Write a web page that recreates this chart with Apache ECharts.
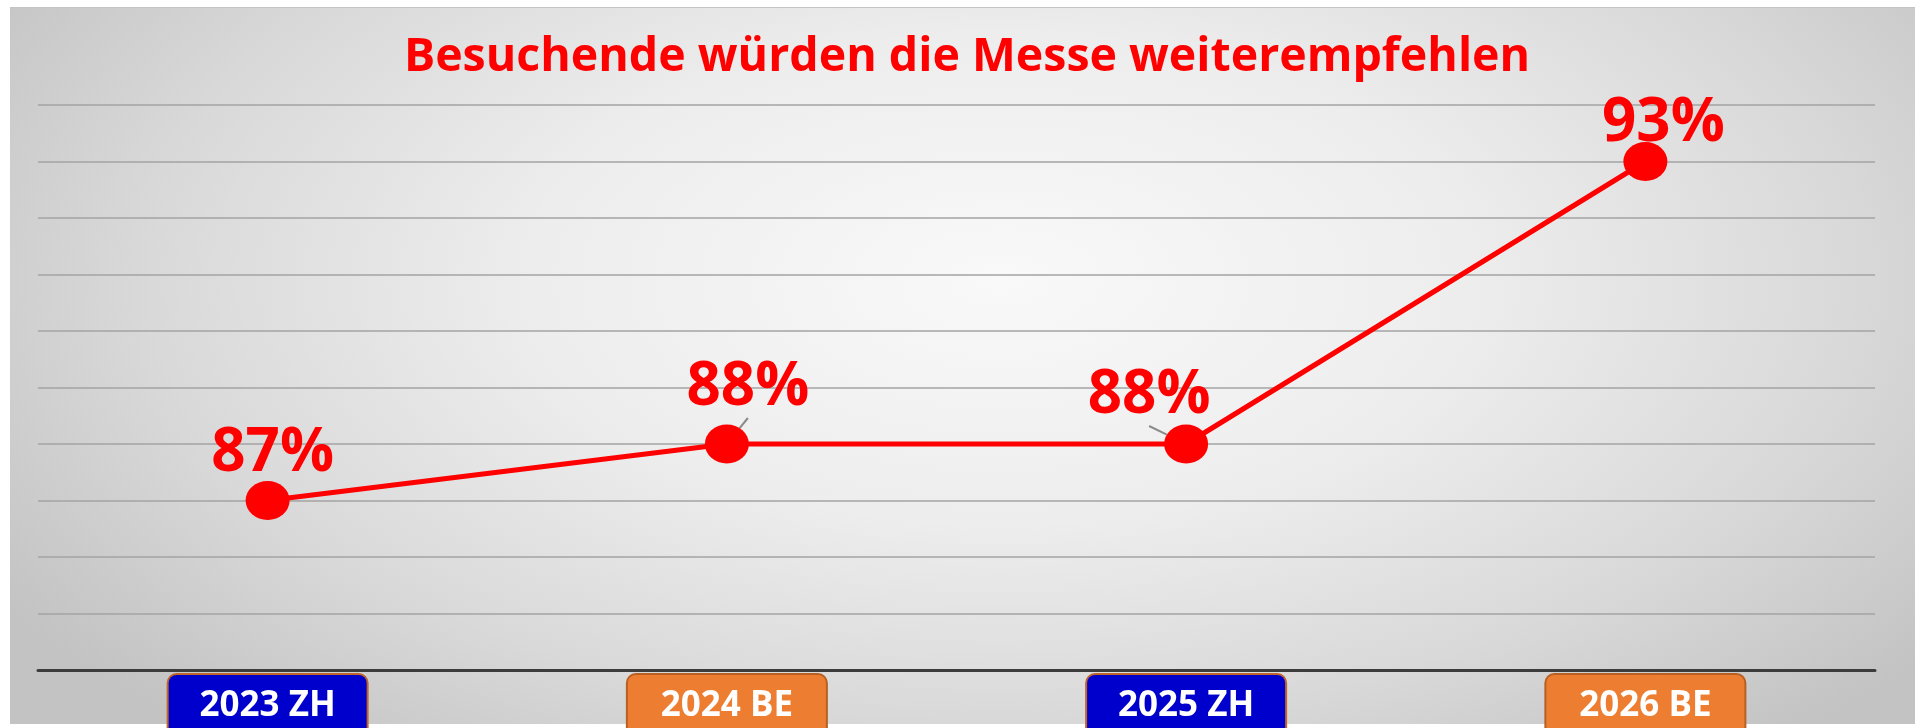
<!DOCTYPE html>
<html>
<head>
<meta charset="utf-8">
<script src="https://cdn.jsdelivr.net/npm/echarts@6/dist/echarts.min.js"></script>
<style>
  html, body { margin: 0; padding: 0; background: #ffffff; overflow: hidden; }
  #panel {
    position: absolute; left: 10px; top: 7px; width: 1905px; height: 716px;
    background: radial-gradient(ellipse 62% 85% at 52% 38%, #f9f9f9 0%, #ededed 40%, #d9d9d9 72%, #c3c3c3 100%);
    border-top: 1px solid #c4c4c4;
  }
  #chart { position: absolute; left: 0; top: 0; width: 1915px; height: 728px; }
</style>
</head>
<body>
<div id="panel"></div>
<div id="chart"></div>
<script>
const titleText = 'Besuchende würden die Messe weiterempfehlen';
const categories = ['2023 ZH', '2024 BE', '2025 ZH', '2026 BE'];
const values = [87, 88, 88, 93];
const yTicks = [84, 85, 86, 87, 88, 89, 90, 91, 92, 93, 94];

// label placement tweaks (pixels) relative to the point
const labelShift = [[5, -47], [21, -56], [-37, -48], [18, -38]];
const showLeader = [false, true, true, false];

const chart = echarts.init(document.getElementById('chart'));
chart.setOption({
  animation: false,
  backgroundColor: 'transparent',
  graphic: [{
    type: 'text',
    x: 967,
    y: 58,
    style: {
      text: titleText,
      align: 'center',
      verticalAlign: 'middle',
      fill: '#ff0000',
      fontSize: 46.5,
      fontWeight: 'bold',
      fontFamily: 'Open Sans'
    },
    z: 10
  }],
  grid: { left: 38, right: 40, top: 105, bottom: 58, outerBoundsMode: 'none', containLabel: false },
  xAxis: {
    type: 'category',
    data: categories,
    boundaryGap: true,
    axisTick: { show: false },
    axisLine: { lineStyle: { color: '#3c3c3c', width: 3 } },
    axisLabel: {
      margin: 5,
      interval: 0,
      formatter: function (v) {
        return (v.indexOf('ZH') >= 0 ? '{zh|' : '{be|') + v + '}';
      },
      rich: {
        zh: {
          backgroundColor: '#0000cc', borderColor: '#c0652a', borderWidth: 2, borderRadius: 8,
          width: 198, height: 62, lineHeight: 62, align: 'center', verticalAlign: 'middle',
          color: '#ffffff', fontSize: 35, fontWeight: 'bold', fontFamily: 'Open Sans'
        },
        be: {
          backgroundColor: '#ed7d31', borderColor: '#b85f22', borderWidth: 2, borderRadius: 8,
          width: 198, height: 62, lineHeight: 62, align: 'center', verticalAlign: 'middle',
          color: '#ffffff', fontSize: 35, fontWeight: 'bold', fontFamily: 'Open Sans'
        }
      }
    }
  },
  yAxis: {
    type: 'value',
    min: yTicks[0],
    max: yTicks[yTicks.length - 1],
    interval: 1,
    axisLabel: { show: false },
    axisLine: { show: false },
    axisTick: { show: false },
    splitLine: { lineStyle: { color: '#a3a3a3', width: 1.5 } }
  },
  series: [{
    type: 'line',
    data: values.map((v, i) => ({ value: v, labelLine: { show: showLeader[i] } })),
    lineStyle: { color: '#ff0000', width: 5 },
    itemStyle: { color: '#ff0000' },
    symbol: 'circle',
    symbolSize: [44, 39],
    label: {
      show: true,
      position: 'inside',
      formatter: '{c}%',
      color: '#ff0000',
      fontSize: 60,
      fontWeight: 'bold',
      fontFamily: 'Open Sans'
    },
    labelLine: { lineStyle: { color: '#8a8a8a', width: 2 } },
    labelLayout: function (p) {
      const s = labelShift[p.dataIndex];
      return { dx: s[0], dy: s[1] };
    },
    z: 3
  }]
});
</script>
</body>
</html>
